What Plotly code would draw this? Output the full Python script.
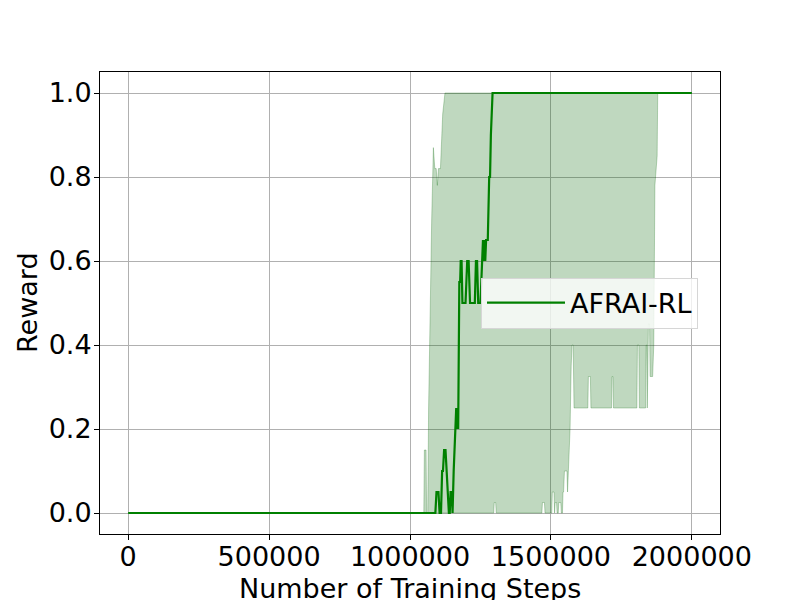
import plotly.graph_objects as go

# ---- data ----
mean_steps = [0, 1090000, 1094000, 1101000, 1105000, 1110000, 1114000, 1117000, 1121000,
              1126000, 1130000, 1134000, 1138000, 1141000, 1144000, 1148000, 1151000,
              1155000, 1158000, 1161000, 1164000, 1167000, 1169000, 1171000, 1175000,
              1178000, 1180000, 1183000, 1184000, 1186000, 1197000, 1200000, 1203000,
              1208000, 1210000, 1213000, 1230000, 1232000, 1234000, 1238000, 1240000,
              1242000, 1250000, 1253000, 1256000, 1259000, 1262000, 1264000, 1267000,
              1270000, 1276000, 1278000, 1281000, 1284000, 1287000, 1293000, 2000000]
mean_reward = [0, 0, 0.05, 0.05, 0, 0, 0.1, 0.1, 0.15,
               0.15, 0.1, 0.05, 0, 0, 0.05, 0.05, 0,
               0.1, 0.15, 0.2, 0.25, 0.2, 0.25, 0.2, 0.55,
               0.55, 0.6, 0.6, 0.55, 0.5, 0.5, 0.55, 0.6,
               0.6, 0.55, 0.5, 0.5, 0.55, 0.6, 0.6, 0.55,
               0.5, 0.5, 0.55, 0.57, 0.65, 0.6, 0.65, 0.6,
               0.65, 0.65, 0.75, 0.8, 0.8, 0.9, 1.0, 1.0]

upper_steps = [0, 1049000, 1051000, 1057000, 1059000, 1063000, 1066000, 1072000, 1077000,
               1083000, 1088000, 1093000, 1097000, 1101000, 1108000, 1116000, 1124000,
               2000000]
upper_reward = [0, 0, 0.15, 0.15, 0, 0, 0.25, 0.55, 0.7,
                0.87, 0.82, 0.82, 0.78, 0.82, 0.82, 0.95, 1.0,
                1.0]

lower_steps = [0, 1297000, 1299000, 1304000, 1306000, 1468000, 1470000, 1477000, 1479000,
               1503000, 1505000, 1511000, 1513000, 1515000, 1520000, 1522000, 1526000,
               1528000, 1535000, 1537000, 1541000, 1543000, 1545000, 1548000, 1557000,
               1559000, 1562000, 1568000, 1572000, 1575000, 1579000, 1582000, 1631000,
               1633000, 1640000, 1642000, 1715000, 1717000, 1720000, 1722000, 1805000,
               1807000, 1812000, 1814000, 1836000, 1838000, 1840000, 1842000, 1844000,
               1846000, 1850000, 1852000, 1861000, 1865000, 1869000, 1873000, 1877000,
               1879000, 2000000]
lower_reward = [0, 0, 0.025, 0.025, 0, 0, 0.025, 0.025, 0,
                0, 0.05, 0.05, 0, 0.025, 0.025, 0, 0,
                0.025, 0.025, 0, 0, 0.05, 0.05, 0.1, 0.1,
                0.05, 0.1, 0.2, 0.35, 0.4, 0.4, 0.25, 0.25,
                0.325, 0.325, 0.25, 0.25, 0.325, 0.325, 0.25, 0.25,
                0.4, 0.4, 0.25, 0.25, 0.4, 0.4, 0.25, 0.25,
                0.45, 0.45, 0.325, 0.325, 0.4, 0.78, 0.82, 0.85,
                1.0, 1.0]

x_ticks = [0, 500000, 1000000, 1500000, 2000000]
y_ticks = [0.0, 0.2, 0.4, 0.6, 0.8, 1.0]
series_name = "AFRAI-RL"

FONT = "DejaVu Sans"
FS = 27

fig = go.Figure()

# shaded band (upper edge forward, lower edge backward)
fig.add_trace(go.Scatter(
    x=upper_steps + lower_steps[::-1],
    y=upper_reward + lower_reward[::-1],
    fill="toself",
    fillcolor="rgba(0,100,0,0.25)",
    line=dict(color="rgba(0,100,0,0.25)", width=1),
    mode="lines",
    showlegend=False,
    hoverinfo="skip",
))

fig.add_trace(go.Scatter(
    x=mean_steps, y=mean_reward,
    mode="lines",
    line=dict(color="#008000", width=2.2),
    name=series_name,
))

axis_common = dict(
    showline=True, mirror=True, linecolor="black", linewidth=1,
    ticks="outside", ticklen=5, tickcolor="black", tickwidth=1,
    showgrid=True, gridcolor="#b0b0b0", gridwidth=1,
    zeroline=False,
    tickfont=dict(family=FONT, size=FS, color="black"),
)

fig.update_xaxes(range=[-100000, 2100000], tickvals=x_ticks,
                 ticktext=[str(v) for v in x_ticks], ticklabelstandoff=-6,
                 **axis_common)
fig.update_yaxes(range=[-0.05, 1.05], tickvals=y_ticks,
                 ticktext=["%.1f" % v for v in y_ticks], ticklabelstandoff=-3,
                 **axis_common)

fig.update_layout(
    width=800, height=600,
    margin=dict(l=92, r=88, t=64, b=74, autoexpand=False),
    paper_bgcolor="white", plot_bgcolor="white",
    font=dict(family=FONT, size=FS, color="black"),
    legend=dict(
        x=0.9645, xanchor="right", y=0.5, yanchor="middle",
        bgcolor="rgba(255,255,255,0.8)", bordercolor="#d6d6d6", borderwidth=1,
        font=dict(family=FONT, size=FS, color="black"),
        itemwidth=78,
    ),
    annotations=[
        dict(text="Number of Training Steps", xref="paper", yref="paper",
             x=0.5, y=0, xanchor="center", yanchor="top", yshift=-37,
             showarrow=False, font=dict(family=FONT, size=FS, color="black")),
        dict(text="Reward", xref="paper", yref="paper",
             x=0, y=0.5, xanchor="center", yanchor="middle", xshift=-73,
             textangle=-90, showarrow=False,
             font=dict(family=FONT, size=FS, color="black")),
    ],
)

fig.write_html("out.html")
